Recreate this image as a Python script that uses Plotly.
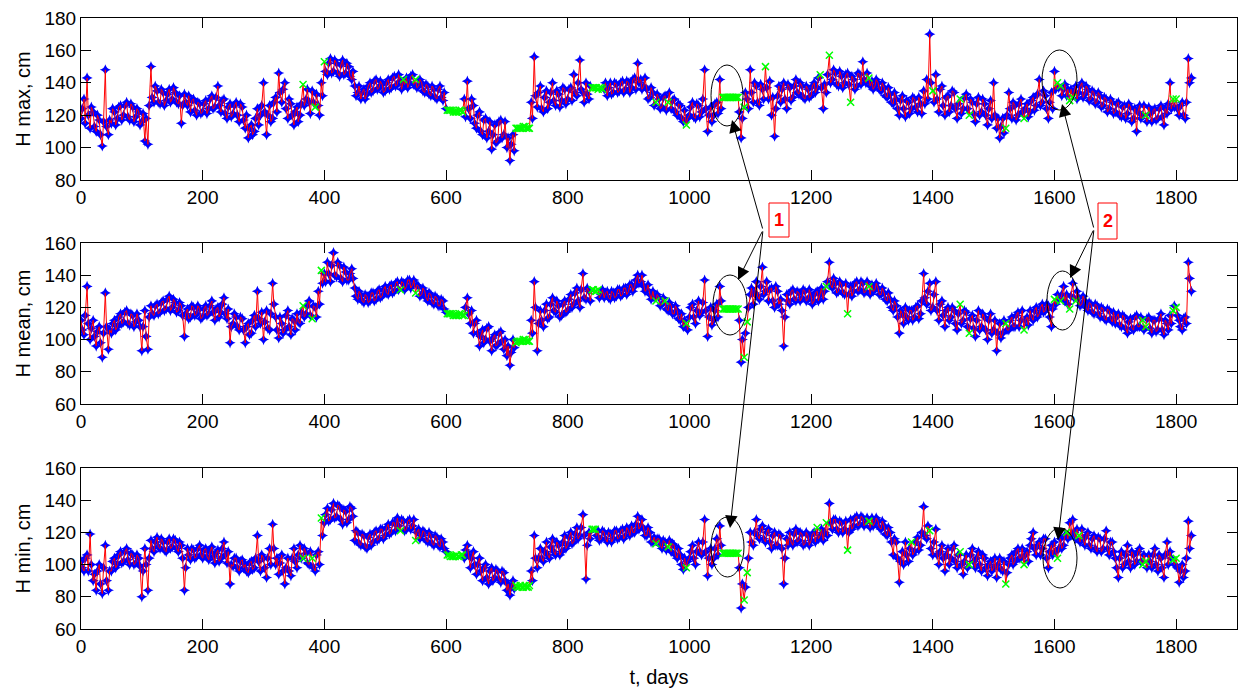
import plotly.graph_objects as go

# ---------------- data ----------------
# values on days 0,5,10,... (set A) and on days 2,7,12,... (set B)
days_a = list(range(0, 1826, 5))
days_b = list(range(2, 1823, 5))

h_max_a = [
    118, 130, 143, 112, 122, 110, 117, 101, 148, 108,
    115, 122, 118, 126, 120, 128, 117, 125, 119, 122,
    116, 104, 102, 150, 128, 135, 127, 134, 129, 136,
    130, 134, 127, 115, 133, 126, 122, 130, 120, 127,
    122, 129, 124, 132, 125, 138, 122, 130, 118, 127,
    121, 128, 116, 125, 112, 106, 114, 110, 124, 120,
    140, 108, 126, 118, 131, 146, 128, 140, 118, 127,
    114, 125, 120, 139, 130, 128, 135, 125, 126, 140,
    153, 145, 155, 147, 152, 144, 154, 146, 150, 142,
    138, 134, 130, 136, 133, 140, 135, 142, 137, 139,
    135, 142, 137, 144, 139, 141, 142, 143, 140, 145,
    142, 138, 140, 134, 138, 132, 136, 130, 138, 129,
    124, 123, 123, 122, 122, 123, 130, 141, 118, 126,
    112, 122, 108, 118, 110, 99, 114, 104, 117, 108,
    100, 92, 108, 112, 112, 112, 113, 112, 128, 156,
    125, 138, 122, 135, 128, 140, 126, 133, 129, 136,
    130, 137, 145, 132, 154, 134, 140, 130, 137, 137,
    136, 137, 136, 132, 140, 134, 139, 135, 141, 136,
    140, 137, 143, 152, 142, 138, 136, 131, 134, 128,
    130, 125, 132, 128, 124, 130, 120, 126, 116, 114,
    120, 128, 118, 126, 122, 148, 110, 125, 120, 128,
    142, 131, 131, 131, 131, 131, 131, 106, 125, 130,
    148, 128, 138, 126, 136, 150, 130, 120, 107, 132,
    128, 140, 124, 137, 131, 142, 133, 138, 130, 136,
    132, 140, 137, 145, 124, 134, 157, 142, 146, 138,
    144, 140, 146, 128, 142, 138, 145, 153, 140, 143,
    141, 138, 140, 135, 137, 131, 133, 127, 130, 120,
    132, 119, 128, 124, 130, 122, 127, 135, 142, 170,
    135, 145, 122, 138, 120, 132, 126, 134, 118, 130,
    124, 133, 120, 128, 116, 131, 122, 127, 114, 129,
    140, 112, 106, 118, 112, 134, 118, 126, 120, 130,
    118, 127, 122, 131, 126, 142, 128, 132, 118, 134,
    147, 140, 138, 136, 132, 129, 131, 138, 134, 140,
    133, 136, 130, 134, 128, 132, 126, 130, 124, 128,
    122, 128, 119, 126, 121, 125, 118, 110, 126, 120,
    120, 125, 116, 124, 118, 126, 114, 121, 140, 130,
    130, 120, 128, 118, 155, 143,
]
h_max_b = [
    124, 115, 120, 125, 113, 120, 108, 116, 113, 117,
    124, 114, 125, 117, 126, 119, 127, 116, 124, 114,
    121, 118, 126, 131, 138, 128, 136, 126, 133, 128,
    137, 128, 132, 126, 128, 132, 129, 123, 128, 121,
    127, 121, 130, 124, 131, 126, 129, 121, 125, 119,
    126, 120, 127, 117, 120, 112, 108, 118, 114, 126,
    122, 120, 116, 128, 122, 134, 136, 124, 130, 120,
    122, 116, 127, 126, 136, 121, 128, 133, 120, 132,
    147, 152, 146, 154, 146, 151, 145, 152, 144, 147,
    132, 138, 134, 130, 138, 134, 141, 136, 141, 134,
    140, 136, 143, 138, 145, 136, 139, 137, 144, 139,
    137, 142, 135, 139, 133, 138, 131, 136, 131, 134,
    123, 123, 122, 122, 123, 122, 119, 124, 130, 115,
    120, 110, 117, 106, 116, 108, 103, 116, 106, 116,
    106, 102, 98, 112, 112, 113, 112, 112, 118, 132,
    134, 124, 131, 124, 134, 129, 135, 125, 137, 127,
    136, 129, 134, 140, 136, 128, 133, 138, 137, 137,
    137, 136, 140, 137, 133, 140, 134, 140, 134, 141,
    134, 142, 136, 140, 136, 143, 130, 137, 126, 133,
    124, 131, 123, 134, 129, 122, 127, 118, 123, 118,
    125, 119, 127, 119, 130, 124, 120, 116, 127, 121,
    124, 131, 131, 131, 131, 131, 122, 118, 134, 124,
    134, 140, 128, 139, 130, 137, 141, 131, 124, 138,
    136, 130, 139, 129, 138, 134, 140, 131, 138, 131,
    138, 134, 143, 137, 139, 145, 140, 148, 139, 147,
    137, 145, 139, 144, 136, 146, 139, 142, 146, 138,
    136, 142, 136, 140, 132, 137, 128, 134, 124, 129,
    124, 129, 121, 131, 125, 131, 121, 127, 130, 140,
    128, 130, 136, 126, 131, 122, 135, 124, 127, 121,
    131, 124, 130, 121, 127, 120, 130, 120, 124, 118,
    120, 118, 113, 109, 120, 124, 128, 117, 127, 122,
    124, 119, 129, 123, 133, 126, 135, 124, 128, 124,
    136, 137, 132, 139, 136, 136, 134, 130, 138, 131,
    138, 129, 135, 127, 134, 125, 131, 122, 130, 121,
    127, 120, 125, 118, 127, 116, 124, 122, 118, 126,
    116, 121, 123, 117, 124, 119, 124, 127, 124, 125,
    124, 126, 120, 128, 140,
]

h_mean_a = [
    112, 103, 133, 100, 112, 96, 108, 89, 129, 94,
    104, 112, 108, 116, 111, 118, 109, 115, 111, 112,
    93, 118, 94, 121, 115, 122, 117, 124, 119, 127,
    120, 123, 118, 121, 102, 119, 114, 120, 116, 119,
    114, 121, 116, 124, 112, 120, 117, 126, 113, 98,
    110, 114, 106, 113, 98, 110, 104, 115, 130, 110,
    100, 118, 106, 135, 114, 101, 110, 106, 118, 103,
    112, 116, 110, 121, 116, 124, 113, 120, 130, 143,
    141, 148, 136, 154, 139, 146, 136, 142, 137, 144,
    132, 125, 128, 123, 127, 124, 129, 125, 131, 127,
    133, 128, 134, 130, 136, 131, 135, 133, 137, 134,
    129, 133, 128, 130, 124, 128, 122, 126, 121, 124,
    117, 116, 116, 115, 115, 116, 115, 126, 110, 104,
    112, 96, 106, 100, 108, 93, 103, 97, 105, 94,
    90, 84, 100, 98, 99, 99, 100, 99, 112, 136,
    93, 118, 108, 122, 114, 126, 117, 121, 115, 124,
    118, 128, 122, 132, 120, 141, 125, 130, 131, 130,
    131, 128, 126, 130, 125, 129, 127, 131, 128, 132,
    130, 134, 133, 140, 136, 133, 131, 128, 130, 124,
    126, 122, 124, 118, 121, 116, 118, 112, 108, 110,
    114, 122, 110, 124, 117, 137, 102, 120, 112, 122,
    133, 119, 119, 119, 119, 119, 119, 86, 89, 111,
    128, 122, 136, 125, 145, 130, 124, 132, 120, 130,
    125, 96, 128, 122, 131, 124, 129, 126, 130, 125,
    127, 124, 130, 128, 125, 133, 148, 132, 135, 130,
    134, 128, 116, 133, 130, 136, 131, 135, 130, 133,
    134, 131, 132, 128, 129, 124, 125, 118, 121, 104,
    116, 120, 112, 118, 114, 121, 116, 141, 122, 135,
    120, 136, 112, 124, 108, 120, 114, 118, 106, 122,
    112, 117, 104, 115, 102, 118, 108, 114, 100, 116,
    106, 93, 110, 104, 110, 106, 114, 108, 117, 112,
    106, 114, 118, 112, 120, 116, 122, 118, 121, 108,
    125, 128, 124, 133, 128, 119, 135, 124, 126, 122,
    124, 118, 122, 116, 121, 114, 119, 112, 118, 111,
    110, 116, 108, 114, 104, 113, 106, 115, 108, 112,
    108, 114, 104, 112, 106, 116, 103, 110, 115, 118,
    120, 112, 106, 114, 148, 130,
]
h_mean_b = [
    106, 115, 110, 107, 102, 105, 98, 104, 108, 106,
    110, 106, 114, 110, 117, 110, 116, 108, 116, 108,
    108, 102, 114, 116, 121, 116, 123, 118, 125, 118,
    125, 117, 123, 115, 116, 113, 121, 115, 121, 113,
    119, 115, 121, 117, 119, 114, 122, 116, 119, 108,
    116, 108, 114, 106, 108, 103, 112, 108, 113, 117,
    111, 107, 116, 122, 106, 114, 104, 115, 108, 113,
    106, 111, 117, 114, 121, 115, 121, 114, 122, 135,
    136, 141, 146, 140, 148, 138, 145, 137, 141, 138,
    127, 130, 124, 128, 123, 129, 124, 130, 126, 131,
    129, 133, 129, 135, 131, 136, 131, 137, 132, 137,
    134, 127, 132, 126, 129, 123, 127, 121, 125, 119,
    116, 116, 115, 115, 116, 115, 120, 116, 118, 110,
    104, 102, 98, 107, 99, 101, 96, 104, 99, 100,
    96, 92, 95, 99, 99, 100, 99, 99, 104, 120,
    110, 112, 118, 113, 122, 118, 124, 114, 122, 117,
    125, 120, 129, 124, 131, 126, 132, 124, 131, 130,
    126, 131, 129, 126, 130, 126, 131, 127, 132, 128,
    134, 130, 137, 135, 140, 130, 134, 125, 126, 128,
    121, 126, 119, 123, 116, 121, 113, 116, 112, 106,
    120, 114, 118, 115, 123, 118, 114, 109, 118, 114,
    124, 119, 119, 119, 119, 119, 112, 100, 104, 120,
    132, 129, 127, 133, 128, 136, 131, 124, 133, 122,
    118, 114, 124, 130, 125, 130, 124, 131, 124, 131,
    122, 129, 124, 132, 130, 136, 134, 138, 129, 136,
    129, 135, 128, 127, 135, 130, 136, 129, 136, 128,
    130, 135, 128, 132, 125, 129, 120, 124, 114, 118,
    110, 114, 118, 112, 120, 113, 124, 126, 130, 118,
    128, 118, 122, 115, 118, 112, 120, 110, 116, 110,
    118, 108, 113, 107, 112, 106, 116, 106, 112, 104,
    112, 104, 101, 112, 106, 112, 108, 115, 108, 118,
    112, 109, 114, 118, 114, 120, 117, 122, 114, 119,
    122, 125, 128, 124, 122, 127, 126, 130, 121, 127,
    120, 123, 117, 122, 116, 120, 113, 119, 113, 117,
    114, 109, 115, 107, 111, 107, 114, 108, 114, 106,
    113, 107, 112, 105, 113, 106, 112, 106, 110, 121,
    115, 108, 113, 110, 138,
]

h_min_a = [
    102, 96, 106, 119, 90, 84, 100, 82, 112, 84,
    96, 104, 100, 108, 102, 110, 100, 106, 101, 104,
    80, 110, 84, 115, 108, 117, 110, 114, 108, 116,
    111, 115, 108, 112, 84, 110, 103, 109, 105, 112,
    104, 110, 103, 111, 101, 109, 104, 114, 101, 88,
    99, 104, 96, 103, 100, 95, 102, 98, 118, 96,
    104, 92, 110, 125, 100, 94, 106, 88, 104, 93,
    110, 98, 112, 104, 107, 100, 104, 96, 108, 129,
    126, 135, 128, 138, 130, 136, 125, 133, 128, 135,
    115, 120, 112, 118, 110, 119, 114, 121, 116, 122,
    118, 125, 120, 126, 129, 121, 127, 122, 128, 124,
    115, 122, 118, 120, 114, 118, 112, 117, 111, 114,
    108, 106, 105, 105, 105, 106, 104, 112, 98, 108,
    94, 104, 90, 100, 88, 98, 92, 96, 89, 95,
    84, 81, 90, 87, 86, 86, 87, 86, 96, 118,
    98, 110, 102, 114, 104, 116, 106, 112, 108, 118,
    112, 120, 114, 123, 118, 131, 91, 120, 122, 122,
    121, 116, 120, 114, 119, 116, 121, 117, 122, 118,
    121, 124, 120, 130, 124, 122, 118, 120, 114, 113,
    116, 110, 114, 111, 108, 112, 104, 106, 97, 98,
    104, 112, 100, 114, 106, 128, 93, 110, 104, 116,
    124, 107, 107, 107, 107, 107, 107, 73, 78, 95,
    120, 112, 128, 116, 124, 114, 122, 110, 120, 112,
    118, 88, 116, 120, 112, 122, 115, 119, 113, 118,
    115, 120, 123, 118, 115, 126, 138, 122, 128, 120,
    126, 122, 109, 128, 124, 130, 125, 129, 126, 127,
    129, 126, 127, 122, 124, 118, 120, 106, 114, 89,
    108, 114, 102, 114, 108, 117, 112, 136, 116, 121,
    106, 122, 100, 112, 96, 110, 104, 112, 98, 108,
    94, 106, 100, 110, 98, 108, 96, 104, 93, 102,
    98, 92, 104, 96, 88, 100, 106, 102, 110, 104,
    100, 108, 112, 120, 106, 114, 110, 116, 98, 112,
    114, 104, 116, 112, 120, 126, 128, 116, 118, 122,
    112, 120, 110, 118, 108, 116, 110, 121, 106, 114,
    104, 92, 108, 100, 112, 98, 106, 102, 110, 100,
    102, 106, 98, 110, 96, 104, 92, 114, 108, 103,
    104, 89, 100, 96, 127, 118,
]
h_min_b = [
    98, 104, 96, 100, 94, 96, 88, 98, 90, 96,
    102, 98, 106, 101, 108, 103, 107, 100, 106, 99,
    96, 100, 104, 110, 114, 111, 116, 109, 114, 110,
    116, 110, 114, 104, 98, 106, 110, 104, 110, 106,
    109, 105, 108, 105, 107, 102, 110, 106, 108, 100,
    104, 98, 102, 98, 96, 101, 97, 104, 102, 106,
    98, 104, 100, 110, 104, 101, 96, 98, 96, 104,
    102, 106, 104, 110, 101, 108, 98, 106, 100, 118,
    131, 127, 134, 129, 137, 128, 134, 126, 136, 130,
    121, 113, 119, 111, 117, 112, 120, 115, 122, 116,
    123, 119, 126, 121, 124, 128, 121, 127, 122, 128,
    120, 116, 121, 115, 120, 113, 118, 112, 116, 110,
    106, 105, 105, 106, 105, 106, 109, 106, 104, 100,
    100, 96, 98, 92, 96, 90, 97, 91, 96, 90,
    88, 86, 85, 86, 87, 86, 86, 87, 90, 104,
    104, 104, 108, 106, 111, 108, 114, 106, 114, 110,
    117, 113, 119, 116, 123, 118, 112, 116, 122, 118,
    115, 121, 116, 120, 114, 121, 116, 121, 116, 123,
    118, 120, 125, 122, 128, 118, 123, 114, 117, 116,
    112, 115, 109, 115, 113, 106, 110, 100, 104, 102,
    108, 104, 108, 108, 114, 108, 104, 100, 110, 106,
    112, 107, 107, 107, 107, 107, 98, 88, 86, 104,
    114, 120, 118, 122, 116, 120, 114, 118, 112, 119,
    110, 104, 112, 114, 119, 114, 120, 112, 120, 112,
    119, 114, 116, 122, 120, 118, 126, 128, 122, 127,
    120, 127, 120, 122, 129, 124, 130, 124, 129, 123,
    124, 129, 123, 127, 119, 123, 114, 116, 104, 102,
    100, 106, 110, 106, 114, 109, 120, 118, 124, 110,
    114, 106, 108, 104, 106, 100, 110, 102, 106, 100,
    102, 98, 106, 102, 104, 100, 106, 98, 100, 96,
    104, 100, 97, 102, 95, 104, 100, 108, 104, 110,
    106, 102, 116, 110, 112, 106, 116, 104, 108, 106,
    108, 110, 110, 118, 116, 118, 120, 122, 114, 116,
    118, 112, 116, 110, 117, 108, 116, 110, 114, 108,
    98, 104, 98, 106, 102, 108, 100, 108, 102, 106,
    98, 102, 106, 100, 106, 98, 106, 100, 104, 100,
    98, 96, 92, 104, 110,
]

# gap-filled days (green crosses): flat filled spans and single days
spans_max = [(602, 627), (715, 737), (840, 857), (1055, 1080)]
single_max = [365, 385, 400, 530, 550, 945, 965, 995, 1090, 1125, 1215, 1230, 1265, 1295,
              1400, 1445, 1460, 1520, 1550, 1605, 1610, 1625, 1630, 1750, 1795, 1800]
spans_mean = [(602, 630), (715, 737), (840, 850), (1055, 1080)]
single_mean = [365, 380, 395, 525, 550, 945, 960, 995, 1090, 1095, 1225, 1260, 1295, 1445,
               1460, 1520, 1550, 1600, 1610, 1625, 1635, 1745, 1750, 1795, 1800]
spans_min = [(602, 627), (715, 737), (840, 845), (1055, 1080)]
single_min = [365, 380, 395, 525, 550, 945, 965, 995, 1090, 1095, 1210, 1225, 1260, 1295,
              1365, 1395, 1445, 1460, 1520, 1550, 1605, 1620, 1640, 1745, 1750, 1795, 1800]

y_titles = ["H max, cm", "H mean, cm", "H min, cm"]
y_ranges = [[80, 180], [60, 160], [60, 160]]
x_ticks = [0, 200, 400, 600, 800, 1000, 1200, 1400, 1600, 1800]

for arr in (h_max_a, h_mean_a, h_min_a):
    assert len(arr) == len(days_a)
for arr in (h_max_b, h_mean_b, h_min_b):
    assert len(arr) == len(days_b)


def merge(a, b):
    pairs = list(zip(days_a, a)) + list(zip(days_b, b))
    pairs.sort()
    return [p[0] for p in pairs], [p[1] for p in pairs]


# ---------------- figure ----------------
W, H = 1239, 688
L, R, T, B = 81, 2, 18, 59
PW, PH = W - L - R, H - T - B


def px(x):
    return (x - L) / PW


def py(y):
    return (H - B - y) / PH


domains = [[py(180), 1.0], [py(404), py(243)], [0.0, py(468)]]
series = [(h_max_a, h_max_b), (h_mean_a, h_mean_b), (h_min_a, h_min_b)]
spans = [spans_max, spans_mean, spans_min]
singles = [single_max, single_mean, single_min]

fig = go.Figure()
FONT = "Liberation Sans, Arial, sans-serif"

for i in range(3):
    xa = "x" if i == 0 else f"x{i+1}"
    ya = "y" if i == 0 else f"y{i+1}"
    tt, vals = merge(*series[i])
    sset = set(singles[i])

    def is_filled(d):
        return d in sset or any(s <= d <= e for s, e in spans[i])

    obs_t = [d for d in tt if not is_filled(d)]
    obs_v = [v for d, v in zip(tt, vals) if not is_filled(d)]
    fil_t = [d for d in tt if is_filled(d)]
    fil_v = [v for d, v in zip(tt, vals) if is_filled(d)]
    fig.add_trace(go.Scatter(x=obs_t, y=obs_v, mode="markers", xaxis=xa, yaxis=ya,
                             marker=dict(symbol="star-diamond", size=8, color="#0000ff"),
                             showlegend=False, hoverinfo="skip"))
    fig.add_trace(go.Scatter(x=tt, y=vals, mode="lines", xaxis=xa, yaxis=ya,
                             line=dict(color="#ff0000", width=1),
                             showlegend=False))
    fig.add_trace(go.Scatter(x=fil_t, y=fil_v, mode="markers", xaxis=xa, yaxis=ya,
                             marker=dict(symbol="x-thin", size=7,
                                         line=dict(color="#00ff00", width=1.5)),
                             showlegend=False, hoverinfo="skip"))

axis_common = dict(showline=True, linecolor="black", linewidth=1, mirror="ticks",
                   ticks="inside", ticklen=10, tickcolor="black", showgrid=False,
                   zeroline=False, automargin=False,
                   tickfont=dict(family=FONT, size=19, color="black"))

layout = dict(width=W, height=H, margin=dict(l=L, r=R, t=T, b=B, autoexpand=False),
              paper_bgcolor="white", plot_bgcolor="white",
              font=dict(family=FONT, color="black"))
for i in range(3):
    xk = "xaxis" if i == 0 else f"xaxis{i+1}"
    yk = "yaxis" if i == 0 else f"yaxis{i+1}"
    ya = "y" if i == 0 else f"y{i+1}"
    xa = "x" if i == 0 else f"x{i+1}"
    layout[xk] = dict(axis_common, domain=[0, 1], range=[0, 1900], tickvals=x_ticks,
                      anchor=ya)
    layout[yk] = dict(axis_common, domain=domains[i], range=y_ranges[i], dtick=20,
                      anchor=xa,
                      title=dict(text=y_titles[i], font=dict(family=FONT, size=20),
                                 standoff=8))
layout["xaxis3"]["title"] = dict(text="t, days", font=dict(family=FONT, size=20), standoff=14)
fig.update_layout(**layout)

# ellipses around the highlighted regions
ellipses = [(711, 65, 743, 126), (713, 275, 747, 335), (711, 517, 744, 577),
            (1042, 50, 1077, 110), (1047, 271, 1078, 330), (1043, 528, 1077, 588)]
for x0, y0, x1, y1 in ellipses:
    fig.add_shape(type="circle", xref="paper", yref="paper",
                  x0=px(x0), x1=px(x1), y0=py(y1), y1=py(y0),
                  line=dict(color="black", width=1))

# label boxes
boxes = [("1", 769, 203, 789, 237), ("2", 1098, 203, 1117, 239)]
for txt, x0, y0, x1, y1 in boxes:
    fig.add_shape(type="rect", xref="paper", yref="paper",
                  x0=px(x0), x1=px(x1), y0=py(y1), y1=py(y0),
                  line=dict(color="red", width=1), fillcolor="white")
    fig.add_annotation(x=px((x0 + x1) / 2), y=py((y0 + y1) / 2), xref="paper", yref="paper",
                       text=f"<b>{txt}</b>", showarrow=False, xanchor="center",
                       yanchor="middle", font=dict(family=FONT, size=18, color="red"))

# arrows: (tail, head)
arrows = [((763, 230), (732, 120)), ((763, 230), (738, 280)), ((763, 230), (730, 528)),
          ((1094, 229), (1062, 104)), ((1094, 229), (1070, 278)), ((1094, 229), (1058, 540))]
for (tx, ty), (hx, hy) in arrows:
    fig.add_annotation(x=px(hx), y=py(hy), xref="paper", yref="paper",
                       ax=tx - hx, ay=ty - hy, text="", showarrow=True,
                       arrowhead=2, arrowsize=2.5, arrowwidth=1, arrowcolor="black")

fig.write_html("out.html", config={"displayModeBar": False},
               post_script="document.body.style.margin='0';document.body.style.padding='0';")
